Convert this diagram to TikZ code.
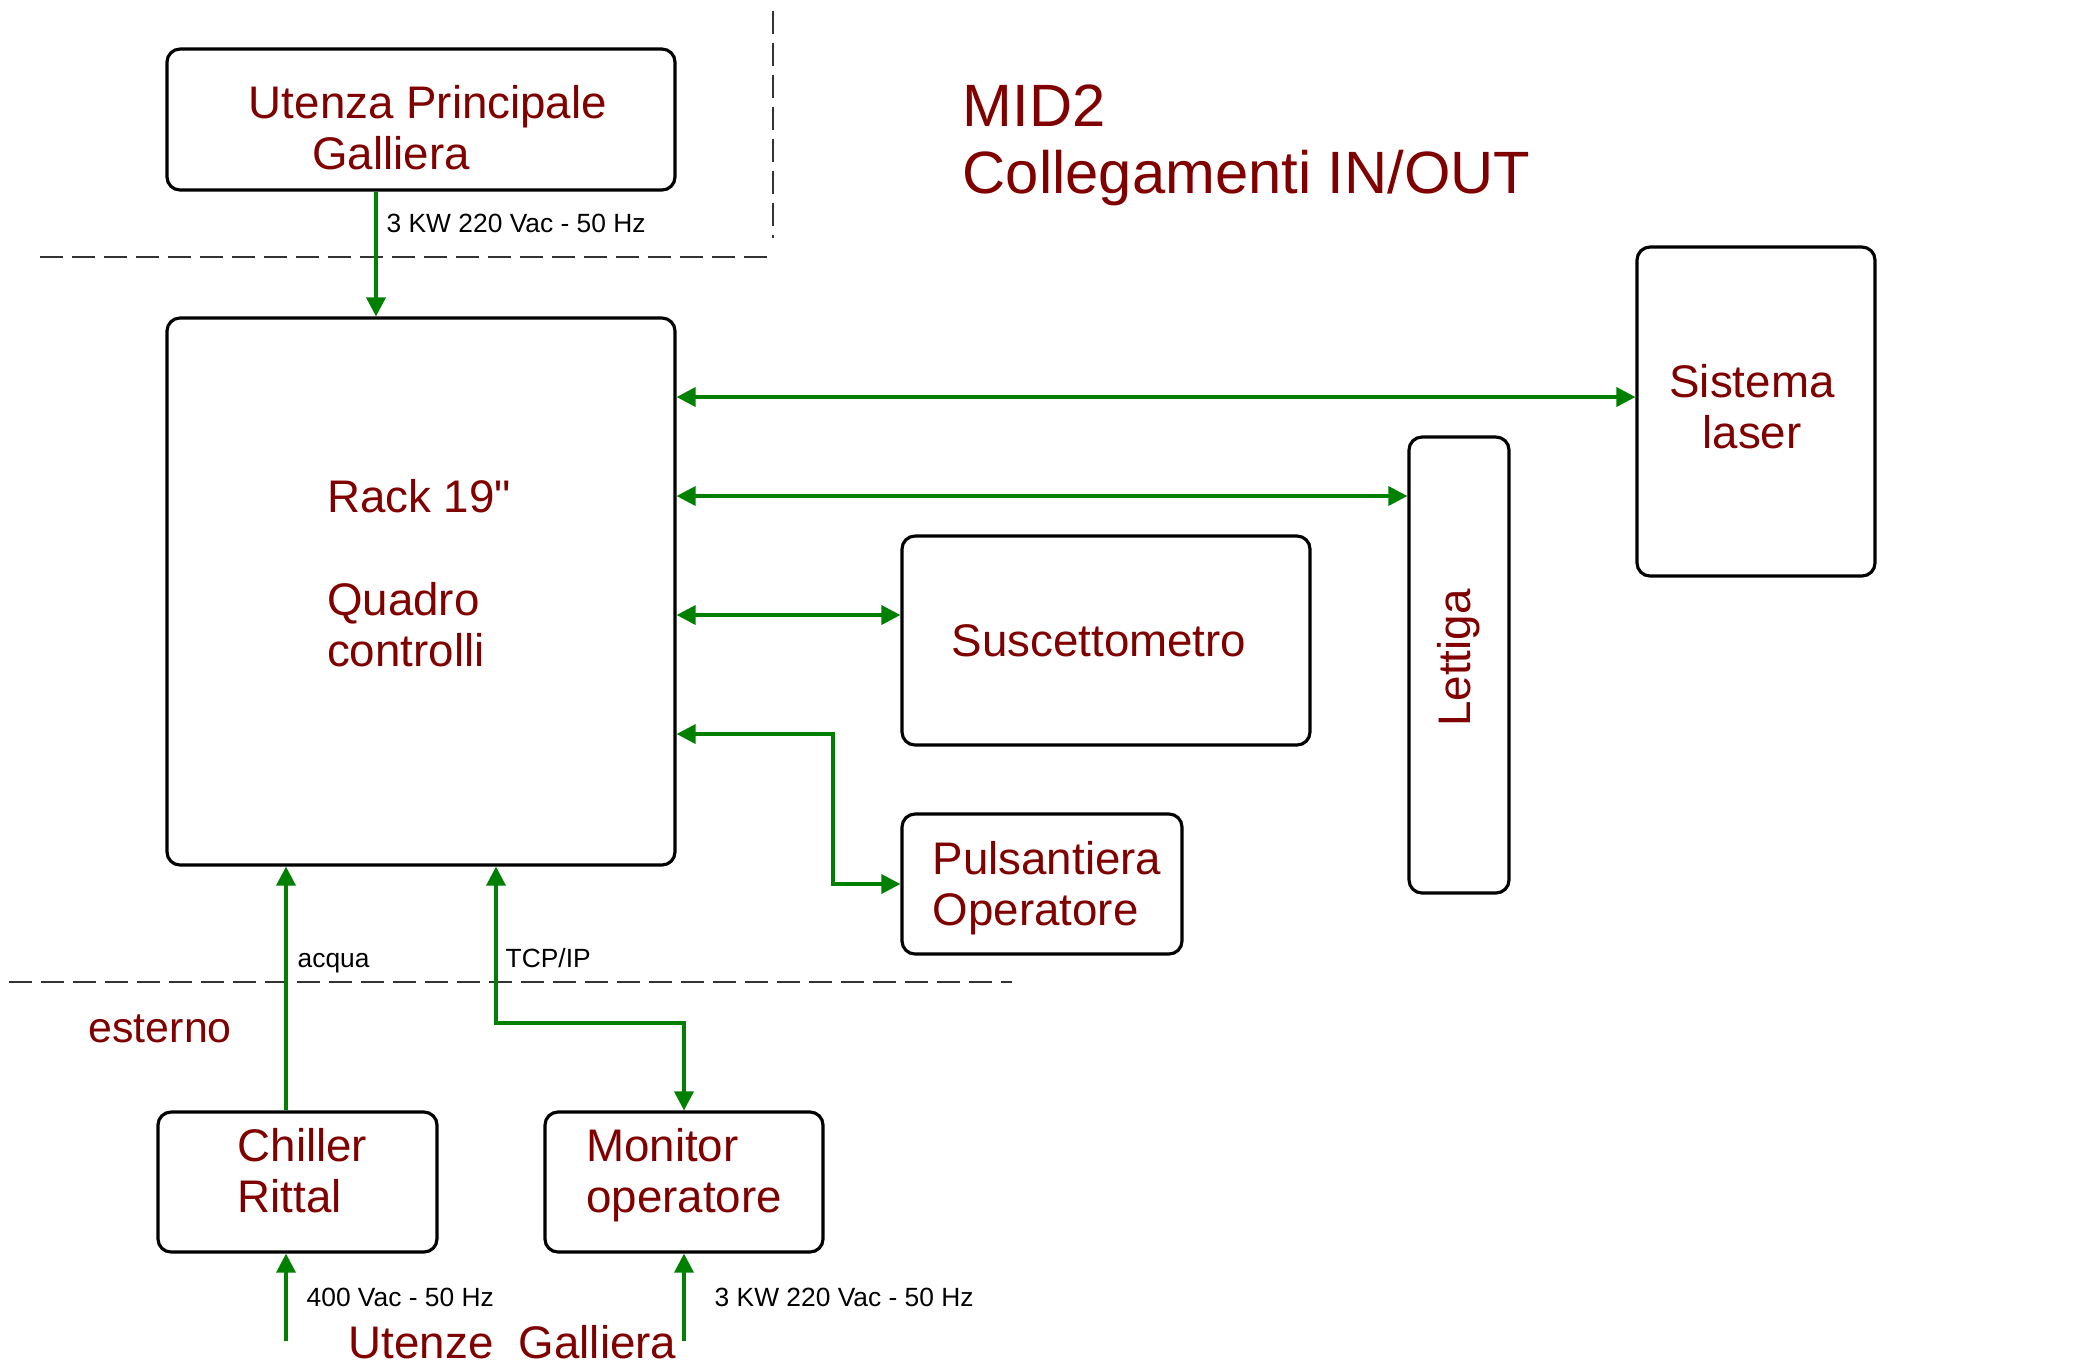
\documentclass[tikz,border=0pt]{standalone}
\usepackage{fontspec}
\setmainfont{Liberation Sans}[Ligatures=TeXOff]
\usetikzlibrary{arrows.meta}
\definecolor{boxred}{RGB}{128,0,0}
\definecolor{linkgreen}{RGB}{0,128,0}

\begin{document}
\begin{tikzpicture}[
    >={Triangle[length=0.19cm,width=0.19cm]},
    unit/.style={draw, line width=0.9pt, rounded corners=0.13cm, inner sep=0pt},
    boxtext/.style={text=boxred, inner sep=0pt, font=\fontsize{13}{14.5}\selectfont},
    link/.style={linkgreen, line width=1pt},
    note/.style={anchor=west, inner sep=0pt, font=\fontsize{7.5}{9}\selectfont},
    redtext/.style={boxtext, anchor=west},
    border/.style={line width=0.4pt, black!80, dash pattern=on 0.23cm off 0.09cm}
]
    \useasboundingbox (0,0) rectangle (20.96,-13.67);

    % Title
    \node[anchor=north west, inner sep=0pt, text=boxred, align=left,
      font=\fontsize{17}{19}\selectfont] (title) at (9.62,-0.84) {MID2\\Collegamenti IN/OUT};

    % Boundaries
    \draw[border] (0.40,-2.57) -- (7.69,-2.57);
    \draw[border] (7.73,-0.11) -- (7.73,-2.38);
    \draw[border] (0.09,-9.82) -- (10.12,-9.82);

    % Units
    \node[unit, minimum width=5.08cm, minimum height=1.41cm,
      label={[boxtext, align=center, shift={(0.07,-0.08)}]center:Utenza Principale\\Galliera\hspace*{0.74cm}}] (utenza) at (4.21,-1.195) {};
    \node[unit, minimum width=5.08cm, minimum height=5.47cm,
      label={[boxtext, align=left, shift={(-0.02,0.18)}]center:Rack 19"\\[14.8pt]Quadro\\controlli}] (rack) at (4.21,-5.915) {};
    \node[unit, minimum width=2.38cm, minimum height=3.29cm,
      label={[boxtext, align=center, shift={(-0.04,0.05)}]center:Sistema\\laser}] (sistema) at (17.56,-4.115) {};
    \node[unit, minimum width=1.0cm, minimum height=4.56cm,
      label={[boxtext, shift={(0,0.07)}]center:\rotatebox{90}{Lettiga}}] (lettiga) at (14.59,-6.65) {};
    \node[unit, minimum width=4.08cm, minimum height=2.09cm,
      label={[boxtext, shift={(-0.07,0)}]center:Suscettometro}] (susc) at (11.06,-6.405) {};
    \node[unit, minimum width=2.8cm, minimum height=1.4cm,
      label={[boxtext, align=left, shift={(0.05,-0.04)}]center:Pulsantiera\\Operatore}] (puls) at (10.42,-8.84) {};
    \node[unit, minimum width=2.79cm, minimum height=1.4cm,
      label={[boxtext, align=left, shift={(0.05,0.11)}]center:Chiller\\Rittal}] (chiller) at (2.975,-11.82) {};
    \node[unit, minimum width=2.78cm, minimum height=1.4cm,
      label={[boxtext, align=left, shift={(0,0.07)}]center:Monitor\\operatore}] (monitor) at (6.84,-11.82) {};

    % Free labels
    \node[redtext, font=\fontsize{12.2}{14}\selectfont] (esterno) at (0.88,-10.29) {esterno};
    \node[redtext] (utenze) at (3.48,-13.42) {Utenze\ \ Galliera};

    % Pins and bends
    \coordinate (feed) at (3.76,0);
    \coordinate (water) at (2.86,0);
    \coordinate (net) at (4.96,-10.23);
    \coordinate (bend) at (8.33,-7.34);
    \coordinate (mains1) at (2.86,-13.41);
    \coordinate (mains2) at (6.84,-13.41);

    % Connections
    \draw[link,->] (utenza.south -| feed) -- (rack.north -| feed);
    \draw[link,<->] (rack.east |- 0,-3.97) -- (sistema.west |- 0,-3.97);
    \draw[link,<->] (rack.east |- 0,-4.96) -- (lettiga.west |- 0,-4.96);
    \draw[link,<->] (rack.east |- 0,-6.15) -- (susc.west |- 0,-6.15);
    \draw[link,<->] (rack.east |- bend) -- (bend) |- (puls.west);
    \draw[link,->] (chiller.north -| water) -- (rack.south -| water);
    \draw[link,<->] (rack.south -| net) -- (net) -| (monitor.north);
    \draw[link,->] (mains1) -- (chiller.south -| mains1);
    \draw[link,->] (mains2) -- (monitor.south);

    % Line notes
    \node[note] (n1) at (3.86,-2.23) {3 KW 220 Vac - 50 Hz};
    \node[note] (n2) at (2.97,-9.63) {acqua};
    \node[note] (n3) at (5.05,-9.58) {TCP/IP};
    \node[note] (n4) at (3.06,-12.97) {400 Vac - 50 Hz};
    \node[note] (n5) at (7.14,-12.97) {3 KW 220 Vac - 50 Hz};
\end{tikzpicture}
\end{document}
